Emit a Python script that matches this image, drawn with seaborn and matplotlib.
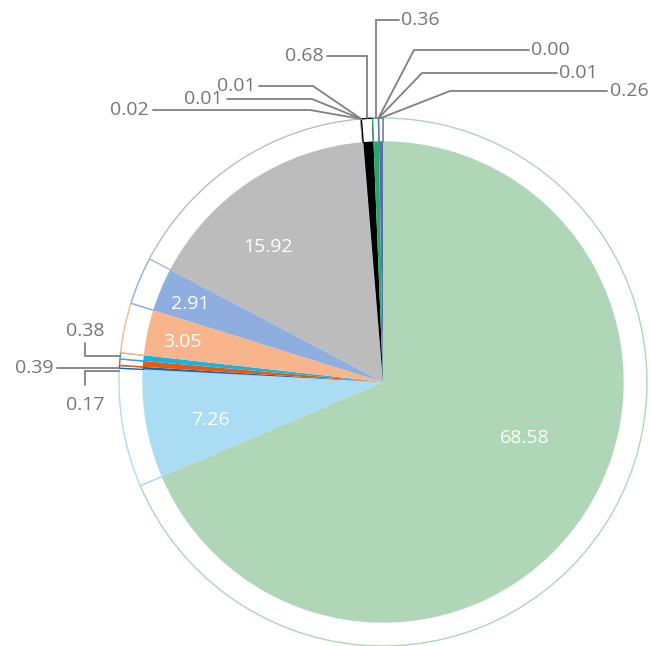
import numpy as np
import matplotlib
matplotlib.use("Agg")
import matplotlib.pyplot as plt
import seaborn as sns

# === 数据 ===
values = [68.58, 7.26, 0.17, 0.39, 0.38, 3.05, 2.91, 15.92,
          0.02, 0.01, 0.01, 0.68, 0.36, 0.00, 0.01, 0.26]
labels = [f"{v:.2f}" for v in values]
colors = ['#aed6b7', '#aadcf4', '#1565b5', '#e8590c', '#19b2e3', '#f8b48a',
          '#8eaedf', '#bcbcbc', '#6ab7d6', '#9dc3e6', '#c8c8c8', '#000000',
          '#2aa86c', '#26a69a', '#4db6ac', '#5c6bac']

# 像素坐标 (图片坐标, 左上为原点)
CX, CY = 383, 382
R_IN, R_OUT = 240, 264
W, H = 650, 646

# 内部标签位置 (index -> pixel)
inner_pos = {0: (525, 438), 1: (210, 420), 5: (182, 342), 6: (190, 304), 7: (268, 247)}

# 外部标签: index -> (text x, text y, ha, elbow)
outer_lbl = {
    2: (85, 405, 'center', ('hv', 85, 385, 371)),
    3: (34, 368, 'center', ('flat', 57, 368)),
    4: (85, 331, 'center', ('hv', 85, 343, 356)),
    8: (149, 110, 'right', ('pt', 310, 110, 153)),
    9: (223, 99, 'right', ('pt', 312, 99, 227)),
    10: (256, 86, 'right', ('pt', 313, 86, 259)),
    11: (324, 56, 'right', ('v', 327)),
    12: (401, 20, 'left', ('v', 399)),
    13: (531, 50, 'left', ('pt', 414, 50, 529)),
    14: (559, 73, 'left', ('pt', 422, 73, 557)),
    15: (610, 91, 'left', ('pt', 450, 91, 607)),
}

sns.set_style("white")
plt.rcParams['font.family'] = ['Open Sans', 'DejaVu Sans']

fig = plt.figure(figsize=(W / 100, H / 100), dpi=100)
ax = fig.add_axes([0, 0, 1, 1])


def P(x, y):
    return x - CX, CY - y


# 内饼
wedges, _ = ax.pie(values, radius=R_IN, colors=colors, startangle=90,
                   counterclock=False, wedgeprops=dict(linewidth=0))
# 外环 (白色填充, 彩色描边)
ring, _ = ax.pie(values, radius=R_OUT, startangle=90, counterclock=False,
                 wedgeprops=dict(width=R_OUT - R_IN, facecolor='white', linewidth=1.0))
for w, c in zip(ring, colors):
    w.set_edgecolor(c)

ax.set_xlim(-CX, W - CX)
ax.set_ylim(CY - H, CY)
ax.set_aspect('equal', adjustable='box')
ax.axis('off')

# 内部标签
for i, (px, py) in inner_pos.items():
    x, y = P(px, py)
    ax.text(x, y, labels[i], color='white', fontsize=14, ha='center', va='center')

# 外部标签 + 引线
line_c = '#808080'
text_c = '#767676'
for i, (tx, ty, ha, el) in outer_lbl.items():
    w = wedges[i]
    mid = np.deg2rad((w.theta1 + w.theta2) / 2)
    rx, ry = R_OUT * np.cos(mid), R_OUT * np.sin(mid)
    kind = el[0]
    if kind == 'pt':
        ex, ey = P(el[1], el[2])
        sx, sy = P(el[3], el[2])
        pts = [(rx, ry), (ex, ey), (sx, sy)]
    elif kind == 'v':
        sx, sy = P(el[1], ty)
        pts = [(rx, ry), (rx, sy), (sx, sy)]
    elif kind == 'hv':
        ax_, y0 = P(el[1], el[2])
        _, y1 = P(el[1], el[3])
        cx_ = -np.sqrt(R_OUT ** 2 - y1 ** 2)
        pts = [(ax_, y0), (ax_, y1), (cx_, y1)]
    else:
        sx, sy = P(el[1], el[2])
        cx_ = -np.sqrt(R_OUT ** 2 - sy ** 2)
        pts = [(sx, sy), (cx_, sy)]
    xs, ys = zip(*pts)
    ax.plot(xs, ys, color=line_c, lw=1.3, solid_joinstyle='miter')
    x, y = P(tx, ty)
    ax.text(x, y, labels[i], color=text_c, fontsize=14, ha=ha, va='center')

plt.savefig("out.png", dpi=100)
plt.close()
